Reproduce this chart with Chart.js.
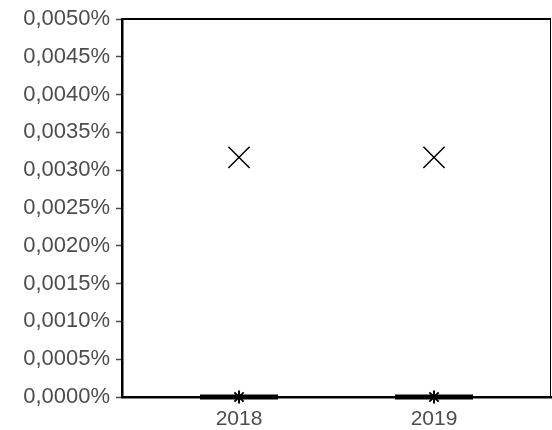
<!DOCTYPE html>
<html>
<head>
<meta charset="utf-8">
<script src="https://cdn.jsdelivr.net/npm/chart.js@4"></script>
<style>
  html, body { margin: 0; padding: 0; background: #fff; }
  #wrap { width: 552px; height: 430px; }
</style>
</head>
<body>
<div id="wrap"><canvas id="boxChart" width="552" height="430"></canvas></div>
<script>
// values in percent
const years = [2018, 2019];
const means = [0.00317, 0.00317];
const medians = [0, 0];
const q1 = [0, 0];
const q3 = [0, 0];
const boxHalfWidth = 0.2;
const yTicks = [0, 0.0005, 0.001, 0.0015, 0.002, 0.0025, 0.003, 0.0035, 0.004, 0.0045, 0.005];

const fmt = v => v.toFixed(4).replace(".", ",") + "%";

// one thick segment per box (q1..q3 collapsed at 0)
const boxSets = years.map((yr, i) => ({
  type: "line",
  data: [{ x: yr - boxHalfWidth, y: q1[i] }, { x: yr + boxHalfWidth, y: q3[i] }],
  borderColor: "#000",
  borderWidth: 5,
  pointRadius: 0,
  order: 3
}));

const framePlugin = {
  id: "frame",
  afterDraw(chart) {
    const { ctx, chartArea: a } = chart;
    ctx.save();
    ctx.strokeStyle = "#000";
    ctx.lineWidth = 2;
    ctx.beginPath();
    ctx.moveTo(a.left, a.top);
    ctx.lineTo(a.right, a.top);
    ctx.stroke();
    ctx.lineWidth = 1;
    ctx.beginPath();
    ctx.moveTo(a.right - 0.5, a.top);
    ctx.lineTo(a.right - 0.5, a.bottom);
    ctx.stroke();
    ctx.restore();
  }
};

new Chart(document.getElementById("boxChart"), {
  type: "scatter",
  data: {
    datasets: [
      ...boxSets,
      {
        data: years.map((yr, i) => ({ x: yr, y: means[i] })),
        pointStyle: "crossRot",
        pointRadius: 15,
        borderColor: "#000",
        borderWidth: 1.5,
        order: 1
      },
      {
        data: years.map((yr, i) => ({ x: yr, y: medians[i] })),
        pointStyle: "star",
        pointRadius: 6.5,
        borderColor: "#000",
        borderWidth: 2,
        order: 0
      }
    ]
  },
  plugins: [framePlugin],
  options: {
    responsive: false,
    animation: false,
    clip: false,
    layout: { autoPadding: false, padding: { top: 19, right: 1, left: 0, bottom: 0 } },
    plugins: { legend: { display: false }, tooltip: { enabled: false } },
    scales: {
      x: {
        type: "linear",
        min: 2017.4,
        max: 2019.6,
        afterBuildTicks: s => { s.ticks = years.map(v => ({ value: v })); },
        afterFit: s => { s.height = 33; s.paddingLeft = 0; s.paddingRight = 0; },
        ticks: {
          callback: v => String(v),
          color: "#4d4d4d",
          font: { family: "Liberation Sans", size: 21 },
          padding: 10
        },
        grid: { drawOnChartArea: false, drawTicks: false },
        border: { color: "#000", width: 2.5 }
      },
      y: {
        min: 0,
        max: 0.005,
        afterBuildTicks: s => { s.ticks = yTicks.map(v => ({ value: v })); },
        afterFit: s => { s.width = 122; s.paddingTop = 0; s.paddingBottom = 0; },
        ticks: {
          callback: v => fmt(v),
          color: "#4d4d4d",
          font: { family: "Liberation Sans", size: 22 },
          padding: 6
        },
        grid: { drawOnChartArea: false, drawTicks: true, tickLength: 6, color: "#4d4d4d", tickWidth: 1.5 },
        border: { color: "#000", width: 2.5 }
      }
    }
  }
});
</script>
</body>
</html>
